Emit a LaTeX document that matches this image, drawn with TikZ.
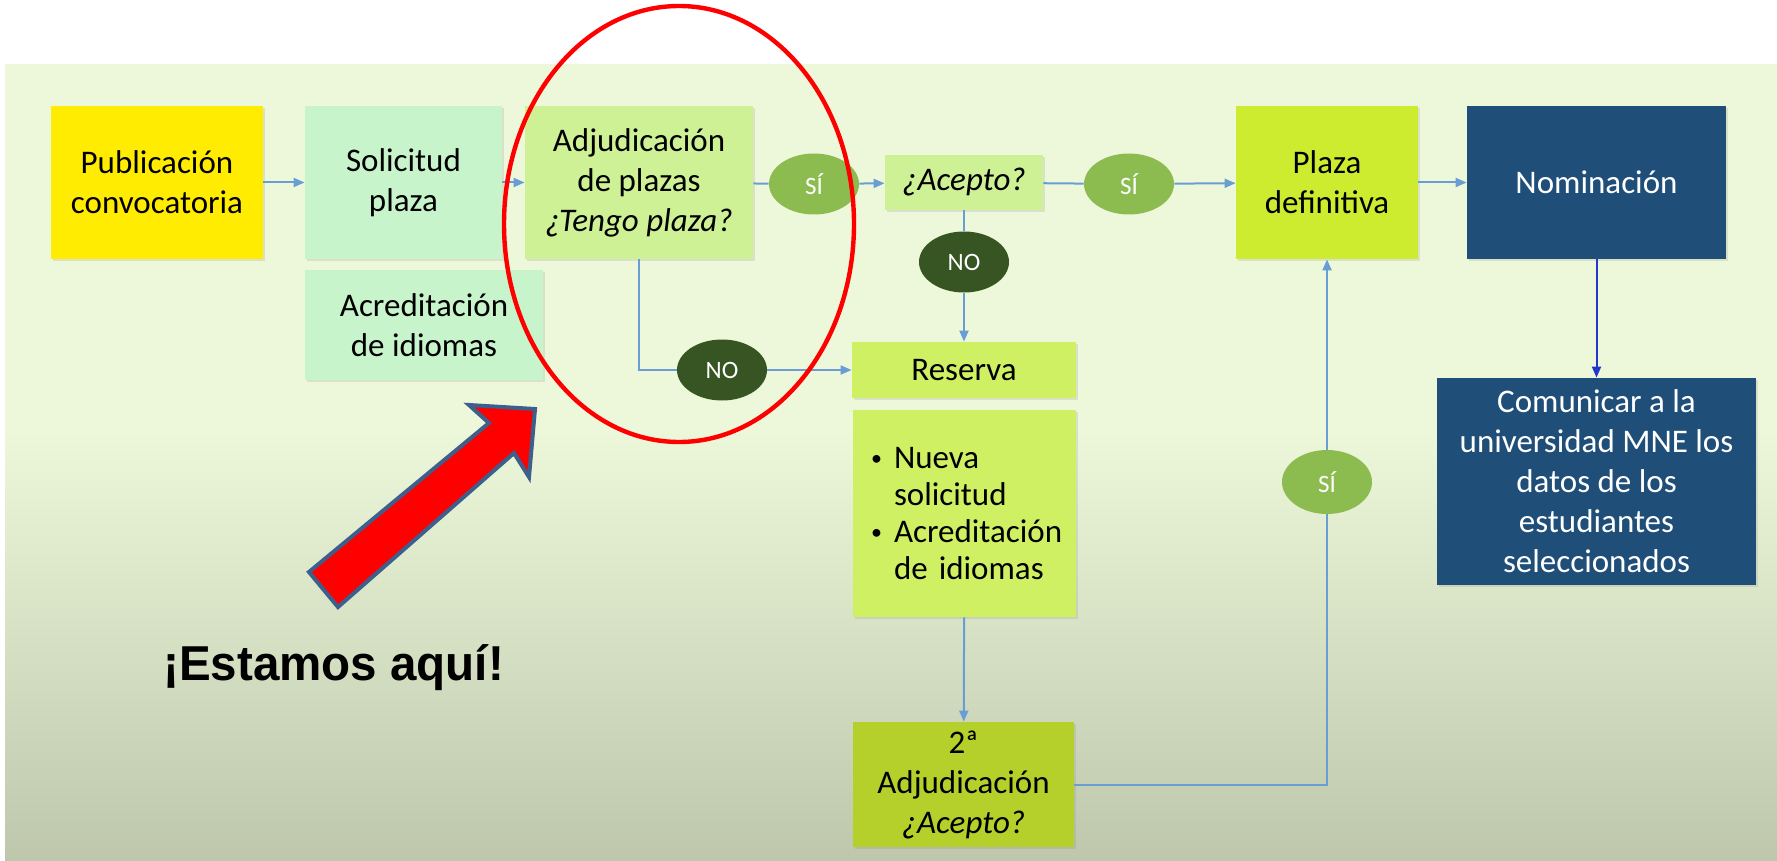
\documentclass[tikz,border=0pt]{standalone}
\usepackage{fontspec}
\setmainfont{Carlito}
\newfontfamily\arialfont{Liberation Sans}
\usetikzlibrary{arrows.meta,shadows,shapes.geometric}
\definecolor{bgtop}{RGB}{237,248,218}
\definecolor{bgbot}{RGB}{190,199,172}
\definecolor{cyellow}{RGB}{255,236,0}
\definecolor{cmint}{RGB}{200,244,204}
\definecolor{cpale}{RGB}{206,241,150}
\definecolor{cres}{RGB}{207,240,98}
\definecolor{clime}{RGB}{205,236,48}
\definecolor{colive}{RGB}{181,208,42}
\definecolor{cnavy}{RGB}{31,78,121}
\definecolor{csi}{RGB}{140,188,80}
\definecolor{cno}{RGB}{55,85,35}
\definecolor{cline}{RGB}{105,158,212}
\definecolor{cblue}{RGB}{35,55,205}
\definecolor{cred}{RGB}{255,0,0}
\definecolor{cedge}{RGB}{60,95,140}
\newcommand{\smallbul}{\makebox[11.5pt][l]{\raisebox{1.3pt}{\fontsize{11}{11}\selectfont\textbullet}}}
\tikzset{
  box/.style={rectangle, inner sep=0pt, align=center,
    font=\fontsize{16.5}{20}\selectfont,
    drop shadow={shadow xshift=1.2pt, shadow yshift=-1.2pt, opacity=0.18}},
  oval/.style={ellipse, inner sep=0pt, minimum width=45pt, minimum height=30.5pt,
    text=white, font=\fontsize{12.5}{15}\selectfont},
  conn/.style={draw=cline, line width=1pt},
  arr/.style={conn, -{Triangle[length=5.5pt,width=4.5pt]}},
  arrblue/.style={draw=cblue, line width=1pt, -{Triangle[length=5.5pt,width=4.5pt]}}
}
\begin{document}
\begin{tikzpicture}[x=0.5pt,y=-0.5pt]
\useasboundingbox (0,0) rectangle (1777,861);
\fill[white] (0,0) rectangle (1777,861);
\fill[bgtop] (5,64) rectangle (1777,430);
\shade[top color=bgtop, bottom color=bgbot] (5,429) rectangle (1777,861);

% boxes
\node[box, fill=cyellow, minimum width=106pt, minimum height=76.5pt] (pub) at (157,182.5) {Publicación\\convocatoria};
\node[box, fill=cmint, minimum width=98.5pt, minimum height=76.5pt] (sol) at (403.5,182.5) {Solicitud\\plaza};
\node[box, fill=cmint, minimum width=119pt, minimum height=55pt] (acr) at (424,325) {Acreditación\\de idiomas};
\node[box, fill=cpale, minimum width=114pt, minimum height=76.5pt] (adj) at (639,182.5) {Adjudicación\\de plazas\\\textit{¿Tengo plaza?}};
\node[box, fill=cpale, minimum width=79pt, minimum height=27.5pt] (ace) at (964,182.5) {\textit{¿Acepto?}};
\node[box, fill=clime, minimum width=91pt, minimum height=76.5pt] (pla) at (1327,182.5) {Plaza\\definitiva};
\node[box, fill=cnavy, text=white, minimum width=129.5pt, minimum height=76.5pt] (nom) at (1596.5,182.5) {Nominación};
\node[box, fill=cres, minimum width=112pt, minimum height=28pt] (res) at (964,370) {Reserva};
\node[box, fill=cres, minimum width=111.5pt, minimum height=103.5pt, text width=93.5pt, align=left,
  font=\fontsize{16.5}{18.5}\selectfont] (bul) at (964.5,513.5)
  {\smallbul Nueva\\\hspace*{11.5pt}solicitud\\\smallbul Acreditación\\\hspace*{11.5pt}de idiomas};
\node[box, fill=colive, minimum width=110.5pt, minimum height=62.5pt] (adj2) at (963.5,784.5) {2ª\\Adjudicación\\\textit{¿Acepto?}};
\node[box, fill=cnavy, text=white, minimum width=159.5pt, minimum height=103.5pt] (com) at (1596.5,481.5)
  {Comunicar a la\\universidad MNE los\\datos de los\\estudiantes\\seleccionados};

% decision ovals
\node[oval, fill=csi] (si1) at (814,184) {SÍ};
\node[oval, fill=csi] (si2) at (1129,184) {SÍ};
\node[oval, fill=cno] (no1) at (964,262) {NO};
\node[oval, fill=cno] (no2) at (722,370) {NO};
\node[oval, fill=csi, minimum height=32pt] (si3) at (1327,482) {SÍ};

% connectors
\draw[arr] (pub) -- (sol);
\draw[arr] (sol) -- (adj);
\draw[conn] (adj) -- (si1);
\draw[arr] (si1) -- (ace);
\draw[conn] (ace) -- (si2);
\draw[arr] (si2) -- (pla);
\draw[arr] (pla) -- (nom);
\draw[arrblue] (nom) -- (com);
\draw[conn] (ace) -- (no1);
\draw[arr] (no1) -- (res);
\draw[conn] (adj.south) |- (no2.west);
\draw[arr] (no2) -- (res);
\draw[arr] (bul) -- (adj2);
\draw[conn] (adj2.east) -| (si3.south);
\draw[arr] (si3) -- (pla);

% highlight
\draw[cred, line width=2.2pt] (679,224) ellipse [x radius=87.5pt, y radius=109pt];
\filldraw[fill=cred, draw=cedge, line width=2pt, line join=miter]
  (309,572) -- (338,607) -- (514,453) -- (529,477) -- (535,409) -- (469,405) -- (489,423) -- cycle;
\node[anchor=base west, inner sep=0pt, font=\arialfont\bfseries\fontsize{24.5}{28}\selectfont, xscale=0.97] (estamos) at (163,680) {¡Estamos aquí!};
\end{tikzpicture}
\end{document}
